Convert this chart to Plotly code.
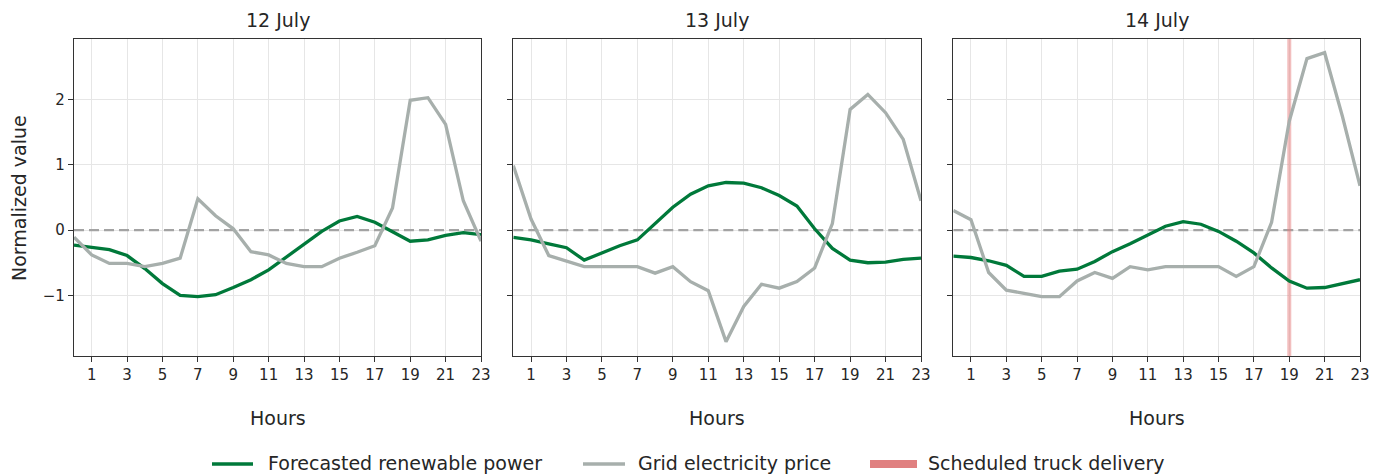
import plotly.graph_objects as go

# ---- data -------------------------------------------------------------
hours = list(range(24))
hour_ticks = list(range(1, 24, 2))
value_ticks = [-1, 0, 1, 2]
value_tick_text = ["\u22121", "0", "1", "2"]
day_titles = ["12 July", "13 July", "14 July"]

renewable_12jul = [-0.23, -0.26, -0.30, -0.39, -0.59, -0.82, -1.00, -1.02, -0.99, -0.88, -0.76, -0.61,
                   -0.41, -0.21, -0.02, 0.14, 0.21, 0.12, -0.03, -0.17, -0.15, -0.08, -0.04, -0.07]
price_12jul = [-0.11, -0.38, -0.51, -0.51, -0.56, -0.51, -0.43, 0.48, 0.22, 0.02, -0.33, -0.38,
               -0.51, -0.56, -0.56, -0.43, -0.34, -0.24, 0.34, 1.99, 2.03, 1.62, 0.45, -0.17]

renewable_13jul = [-0.11, -0.15, -0.21, -0.27, -0.46, -0.35, -0.24, -0.15, 0.10, 0.35, 0.55, 0.68,
                   0.73, 0.72, 0.65, 0.53, 0.37, 0.02, -0.28, -0.46, -0.50, -0.49, -0.45, -0.43]
price_13jul = [0.99, 0.17, -0.39, -0.48, -0.56, -0.56, -0.56, -0.56, -0.66, -0.56, -0.79, -0.93,
               -1.71, -1.17, -0.83, -0.89, -0.79, -0.58, 0.10, 1.85, 2.08, 1.80, 1.39, 0.45]

renewable_14jul = [-0.40, -0.42, -0.47, -0.54, -0.71, -0.71, -0.63, -0.60, -0.48, -0.33, -0.21, -0.08,
                   0.06, 0.13, 0.09, -0.02, -0.17, -0.35, -0.58, -0.78, -0.89, -0.88, -0.82, -0.76]
price_14jul = [0.30, 0.16, -0.65, -0.92, -0.97, -1.02, -1.02, -0.78, -0.65, -0.74, -0.56, -0.61,
               -0.56, -0.56, -0.56, -0.56, -0.71, -0.56, 0.12, 1.67, 2.63, 2.72, 1.75, 0.68]

delivery_hours = [None, None, 19]  # scheduled truck delivery per day

renewable_series = [renewable_12jul, renewable_13jul, renewable_14jul]
price_series = [price_12jul, price_13jul, price_14jul]

legend_labels = ["Forecasted renewable power", "Grid electricity price", "Scheduled truck delivery"]

# ---- styling ----------------------------------------------------------
W, H = 1387, 474
FONT = "DejaVu Sans"
TEXT = "#262626"
GREEN = "#00793a"
GREY = "#a7afac"
RED_LINE = "rgba(230,125,125,0.5)"
RED_PATCH = "#e08080"
FRAME = "#333333"
GRID = "#e6e6e6"
X_RANGE = [0, 23]
Y_RANGE = [-1.93, 2.93]


def fx(px):
    return px / W


def fy(py):
    return 1 - py / H


panel_px = [(74, 481), (513.3, 921), (953.3, 1360)]
plot_top, plot_bottom = 39, 356

fig = go.Figure()
layout_axes = {}
shapes = []
annotations = []

for i in range(3):
    n = "" if i == 0 else str(i + 1)
    xa, ya = "x" + n, "y" + n

    fig.add_trace(go.Scatter(x=hours, y=renewable_series[i], mode="lines", xaxis=xa, yaxis=ya,
                             line=dict(color=GREEN, width=3.3), showlegend=False,
                             name=legend_labels[0]))
    fig.add_trace(go.Scatter(x=hours, y=price_series[i], mode="lines", xaxis=xa, yaxis=ya,
                             line=dict(color=GREY, width=3.3), showlegend=False,
                             name=legend_labels[1]))

    x0, x1 = panel_px[i]
    layout_axes["xaxis" + n] = dict(
        domain=[fx(x0), fx(x1)], range=X_RANGE, anchor=ya, automargin=False,
        tickmode="array", tickvals=hour_ticks,
        ticks="outside", ticklen=5, tickwidth=1.2, tickcolor=FRAME,
        showline=True, mirror=True, linecolor=FRAME, linewidth=1.3,
        showgrid=True, gridcolor=GRID, gridwidth=1, zeroline=False,
        tickfont=dict(family=FONT, size=15, color=TEXT),
    )
    layout_axes["yaxis" + n] = dict(
        domain=[fy(plot_bottom), fy(plot_top)], range=Y_RANGE, anchor=xa, automargin=False,
        tickmode="array", tickvals=value_ticks, ticktext=value_tick_text,
        showticklabels=(i == 0),
        ticks="outside", ticklen=5, tickwidth=1.2, tickcolor=FRAME,
        showline=True, mirror=True, linecolor=FRAME, linewidth=1.3,
        showgrid=True, gridcolor=GRID, gridwidth=1, zeroline=False,
        tickfont=dict(family=FONT, size=15, color=TEXT),
    )

    # dashed reference line at zero
    shapes.append(dict(type="line", xref=xa, yref=ya, x0=X_RANGE[0], x1=X_RANGE[1], y0=0, y1=0,
                       line=dict(color="#a3a3a3", width=2.2, dash="10px,5px"), layer="between"))

    if delivery_hours[i] is not None:
        shapes.append(dict(type="line", xref=xa, yref=ya,
                           x0=delivery_hours[i], x1=delivery_hours[i], y0=Y_RANGE[0], y1=Y_RANGE[1],
                           line=dict(color=RED_LINE, width=4), layer="between"))

    cx = (x0 + x1) / 2
    annotations.append(dict(text=day_titles[i], x=fx(cx), y=fy(20), xref="paper", yref="paper",
                            xanchor="center", yanchor="middle", showarrow=False,
                            font=dict(family=FONT, size=19, color=TEXT)))
    annotations.append(dict(text="Hours", x=fx(cx), y=fy(418), xref="paper", yref="paper",
                            xanchor="center", yanchor="middle", showarrow=False,
                            font=dict(family=FONT, size=19, color=TEXT)))

annotations.append(dict(text="Normalized value", x=fx(19), y=fy(198), xref="paper", yref="paper",
                        xanchor="center", yanchor="middle", textangle=-90, showarrow=False,
                        font=dict(family=FONT, size=19, color=TEXT)))

# ---- legend row along the bottom --------------------------------------
legend_y = 464
shapes.append(dict(type="line", xref="paper", yref="paper", x0=fx(212), x1=fx(253),
                   y0=fy(legend_y), y1=fy(legend_y), line=dict(color=GREEN, width=3.5)))
shapes.append(dict(type="line", xref="paper", yref="paper", x0=fx(583), x1=fx(625),
                   y0=fy(legend_y), y1=fy(legend_y), line=dict(color=GREY, width=3.5)))
shapes.append(dict(type="rect", xref="paper", yref="paper", x0=fx(870), x1=fx(917),
                   y0=fy(legend_y + 4), y1=fy(legend_y - 4), line=dict(width=0),
                   fillcolor=RED_PATCH))
for label, left in zip(legend_labels, [266, 636, 926]):
    annotations.append(dict(text=label, x=fx(left), y=fy(legend_y - 1), xref="paper", yref="paper",
                            xanchor="left", yanchor="middle", showarrow=False,
                            font=dict(family=FONT, size=19, color=TEXT)))

fig.update_layout(
    width=W, height=H,
    margin=dict(l=0, r=0, t=0, b=0, autoexpand=False),
    paper_bgcolor="white", plot_bgcolor="white",
    showlegend=False,
    shapes=shapes, annotations=annotations,
    font=dict(family=FONT, color=TEXT),
    **layout_axes,
)

fig.write_html("out.html", config={"displayModeBar": False})
